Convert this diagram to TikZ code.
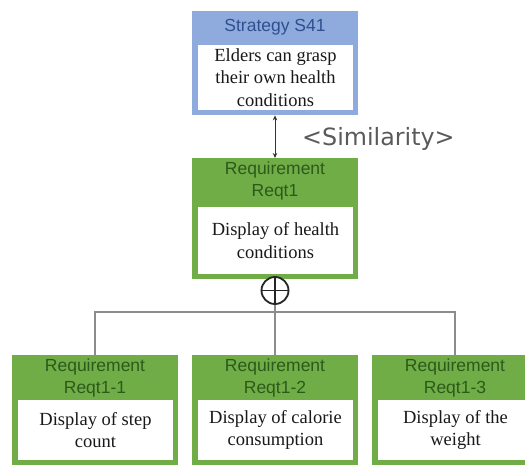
\documentclass[tikz,border=0pt]{standalone}
\usepackage{fontspec}
\setmainfont{Liberation Serif}
\newfontfamily\bodyfont{Liberation Serif}
\newfontfamily\hdrfont{Liberation Sans}
\newfontfamily\notefont{DejaVu Sans}
\usetikzlibrary{arrows.meta}

\definecolor{reqgreen}{HTML}{70AD47}
\definecolor{reqtext}{HTML}{2C5A1A}
\definecolor{strblue}{HTML}{8FAADC}
\definecolor{strtext}{HTML}{2F4F8F}
\definecolor{linegray}{HTML}{8C8C8C}
\definecolor{notegray}{HTML}{5A5A5A}

\begin{document}
\begin{tikzpicture}[x=1pt,y=-1pt,
  outerbox/.style={rectangle, draw=none, inner sep=0pt, anchor=north,
                   minimum width=166pt},
  bodybox/.style={rectangle, fill=white, draw=none, inner sep=0pt,
                  minimum width=155pt, align=center, text=black!90,
                  font=\bodyfont\fontsize{18.5}{22.5}\selectfont},
  hdrtext/.style={inner sep=0pt, align=center,
                  font=\hdrfont\fontsize{17.5}{21.5}\selectfont},
  link/.style={draw=linegray, line width=1.2pt},
  simarrow/.style={draw=black!80, line width=0.8pt,
                   {Stealth[length=5pt,width=4.5pt]}-{Stealth[length=5pt,width=4.5pt]}}
]
\useasboundingbox (0,0) rectangle (525,465);
\clip (0,0) rectangle (525,465);

% strategy block
\node[outerbox, fill=strblue, minimum height=104pt] (s41) at (275,11) {};
\node[hdrtext, text=strtext] (s41h) at (275,27) {Strategy S41};
\node[bodybox, minimum height=65pt] (s41b) at (275.5,77.5)
  {Elders can grasp\\their own health\\conditions};

% top requirement
\node[outerbox, fill=reqgreen, minimum height=121pt] (req1) at (275,158) {};
\node[hdrtext, text=reqtext] (req1h) at (275,181) {Requirement\\Reqt1};
\node[bodybox, minimum height=67pt] (req1b) at (275.5,240.5)
  {Display of health\\conditions};

% sub-requirements
\foreach \cx/\nm/\id/\txt in {95/c1/Reqt1-1/{Display of step\\count},
                              275/c2/Reqt1-2/{Display of calorie\\consumption},
                              455/c3/Reqt1-3/{Display of the\\weight}}{
  \node[outerbox, fill=reqgreen, minimum height=111pt] (\nm) at (\cx,355) {};
  \node[hdrtext, text=reqtext] (\nm h) at (\cx,378) {Requirement\\\id};
  \node[bodybox, minimum height=60pt] (\nm b) at (\cx+0.5,430) {\txt};
}

% similarity relation
\draw[simarrow] (s41.south) -- (req1.north);
\node[anchor=base west, inner sep=0pt, text=notegray,
      font=\notefont\fontsize{23.8}{24}\selectfont] (sim) at (302,146) {<Similarity>};

% decomposition junction
\node[circle, draw=black!85, line width=1.8pt, fill=white, minimum size=27pt,
      inner sep=0pt] (xor) at (275,290.5) {};
\draw[black!85, line width=1.8pt] (xor.north) -- (xor.south);
\draw[black!85, line width=1.8pt] (xor.west) -- (xor.east);

\coordinate (bus) at (275,312);
\draw[link] (xor.south) -- (bus);
\draw[link] (c1.north) |- (bus) -| (c3.north);
\draw[link] (bus) -- (c2.north);
\end{tikzpicture}
\end{document}
